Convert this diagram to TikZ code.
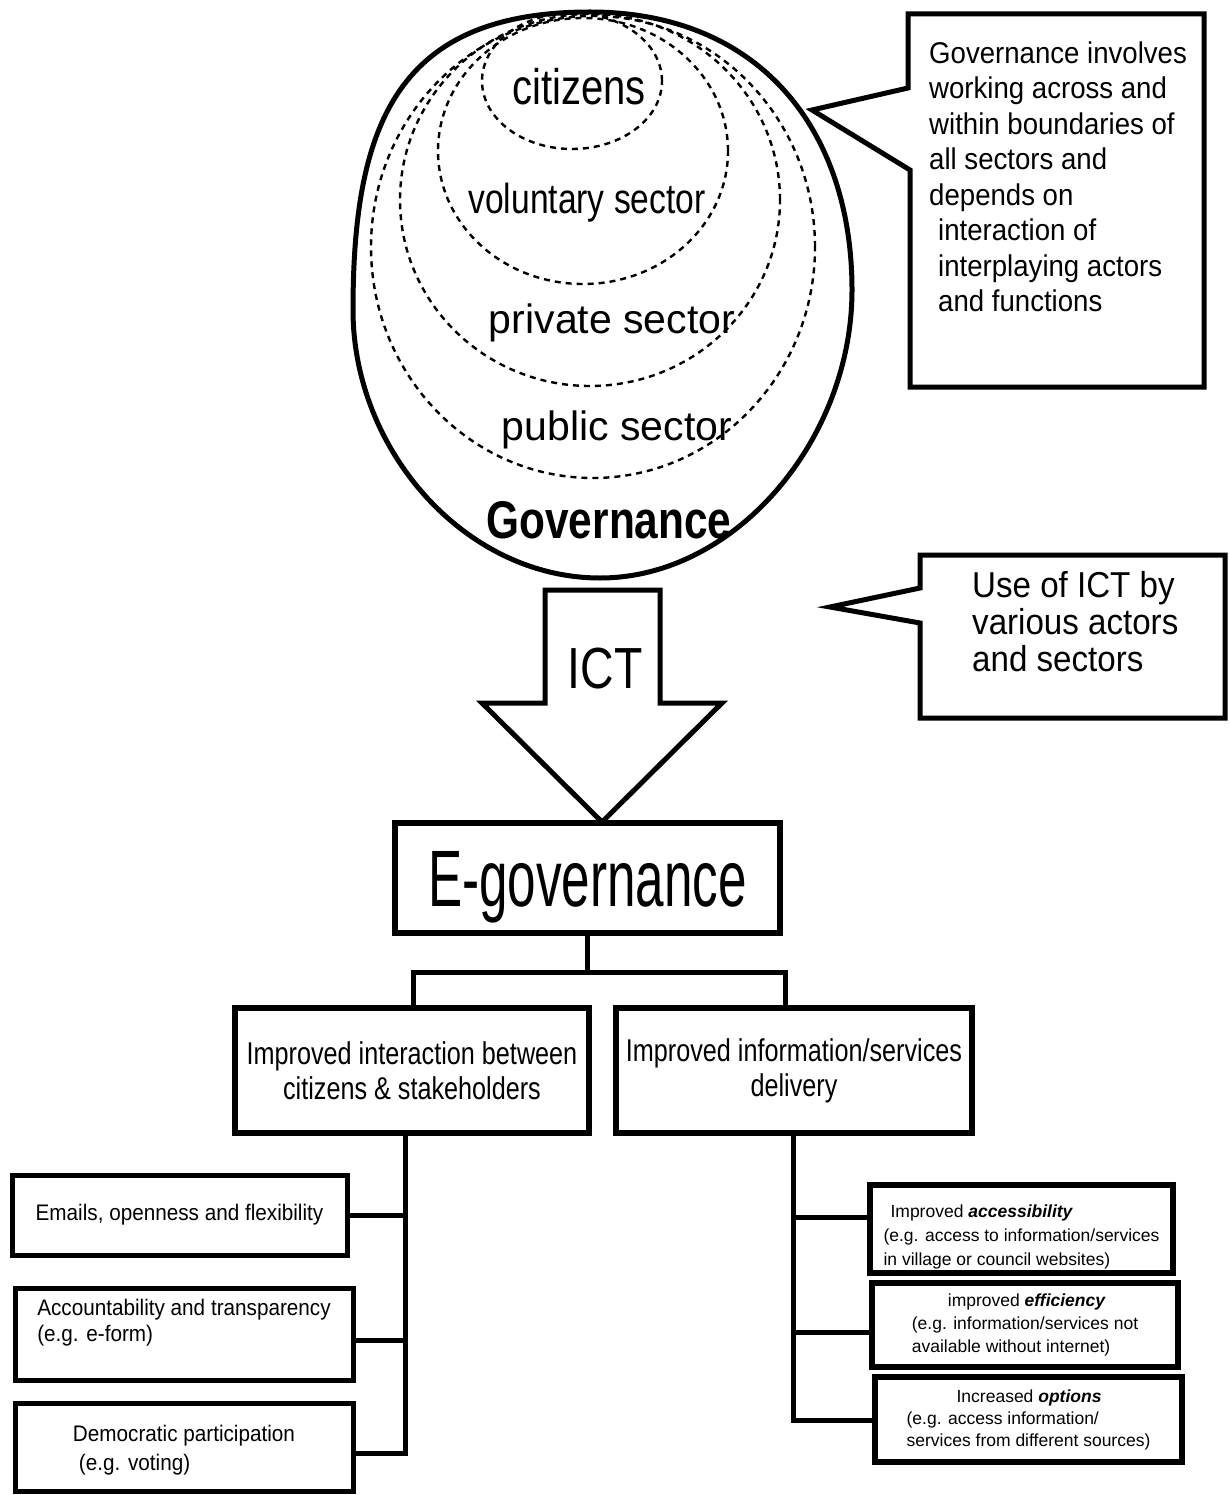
\documentclass[tikz,border=0pt]{standalone}
\usepackage{fontspec}
\setmainfont{Liberation Sans}
\newfontfamily\fnar[FakeStretch=0.8]{Liberation Sans}
\newfontfamily\fcall[FakeStretch=0.92]{Liberation Sans}
\newfontfamily\fegov[FakeStretch=0.64]{Liberation Sans}
\usetikzlibrary{shapes.geometric}
\begin{document}
\begin{tikzpicture}[x=1pt,y=-1pt,
  dashring/.style={draw, ellipse, inner sep=0pt, line width=2.4pt, dash pattern=on 6pt off 5pt},
  outline/.style={line width=5pt, line join=miter},
  boxA/.style={draw, rectangle, line width=5.5pt, inner sep=0pt},
  conn/.style={line width=5pt, line join=miter},
  label/.style={inner sep=0pt, anchor=base},
]
\path[use as bounding box, fill=white] (0,0) rectangle (1230,1495);

% Governance sphere
\draw[line width=5pt] (590,12) .. controls (760,12) and (852,130) .. (852,290)
  .. controls (852,440) and (735,578) .. (600,578)
  .. controls (465,578) and (353,450) .. (353,310)
  .. controls (353,120) and (400,12) .. (590,12) -- cycle;
\node[dashring, minimum width=444pt, minimum height=462pt] (pub) at (593,247) {};
\node[dashring, minimum width=380pt, minimum height=372pt] (pri) at (590,200) {};
\node[dashring, minimum width=290pt, minimum height=266pt] (vol) at (583,151) {};
\node[dashring, minimum width=180pt, minimum height=136pt] (cit) at (572,81) {};

\node[label, font=\fnar\fontsize{50}{52}\selectfont] (tcit) at (579,105) {citizens};
\node[label, font=\fnar\fontsize{42}{44}\selectfont] (tvol) at (587,214) {voluntary sector};
\node[label, font=\fontsize{41}{43}\selectfont] (tpri) at (612,334) {private sector};
\node[label, font=\fontsize{41}{43}\selectfont] (tpub) at (617,440) {public sector};
\node[label, font=\fnar\bfseries\fontsize{53}{55}\selectfont] (tgov) at (609,538) {Governance};

% Callout 1
\draw[outline] (908,14) -- (1204,14) -- (1204,387) -- (910,387) -- (910,170) -- (812,110) -- (908,88) -- cycle;
\node[inner sep=0pt, anchor=west, align=left, font=\fcall\fontsize{30}{35.5}\selectfont] (call1) at (929,177)
  {Governance involves\\working across and\\within boundaries of\\all sectors and\\depends on\\\hspace*{9pt}interaction of\\\hspace*{9pt}interplaying actors\\\hspace*{9pt}and functions};

% ICT arrow
\draw[outline] (545,590) -- (660,590) -- (660,703) -- (722,703) -- (602,822) -- (482,703) -- (545,703) -- cycle;
\node[label, font=\fnar\fontsize{58}{60}\selectfont] (ict) at (605,688) {ICT};

% Callout 2
\draw[outline] (920,555) -- (1225,555) -- (1225,718) -- (920,718) -- (920,623) -- (830,607) -- (920,588) -- cycle;
\node[inner sep=0pt, anchor=west, align=left, font=\fcall\fontsize{36}{37}\selectfont] (call2) at (972,622)
  {Use of ICT by\\various actors\\and sectors};

% E-governance
\node[boxA, minimum width=385pt, minimum height=110pt, font=\fegov\fontsize{80}{82}\selectfont] (egov) at (587.5,878)
  {\rule{0pt}{74pt}E-governance};

% Middle boxes
\node[boxA, minimum width=354pt, minimum height=125pt, align=center, font=\fnar\fontsize{31.5}{35}\selectfont] (mid1) at (412,1070.5)
  {Improved interaction between\\citizens \& stakeholders};
\node[boxA, minimum width=356pt, minimum height=125pt, align=center, font=\fnar\fontsize{31.5}{35}\selectfont] (mid2) at (794,1070.5)
  {Improved information/services\\delivery};

% Left detail boxes
\node[boxA, line width=5pt, minimum width=335pt, minimum height=80pt, font=\fcall\fontsize{22.5}{27}\selectfont] (b1) at (179.5,1215)
  {Emails, openness and flexibility};
\node[boxA, line width=5pt, minimum width=338pt, minimum height=92pt, align=left, font=\fcall\fontsize{22.5}{26}\selectfont] (b2) at (184,1334)
  {Accountability and transparency\\(e.g. e-form)\rule[-27pt]{0pt}{0pt}};
\node[boxA, line width=5pt, minimum width=338pt, minimum height=88pt, align=left, font=\fcall\fontsize{22.5}{29}\selectfont] (b3) at (184,1447)
  {\rule{0pt}{22pt}Democratic participation\\\hspace*{6pt}(e.g. voting)};

% Right detail boxes
\node[boxA, minimum width=303pt, minimum height=88pt, align=left, font=\fontsize{17.5}{24}\selectfont] (r1) at (1021.5,1229)
  {\hspace*{7pt}\rule{0pt}{29pt}Improved \textbf{\textit{accessibility}}\\(e.g. access to information/services\\in village or council websites)};
\node[boxA, minimum width=306pt, minimum height=84pt, align=left, font=\fontsize{17.5}{23}\selectfont] (r2) at (1025,1325)
  {\hspace*{36pt}improved \textbf{\textit{efficiency}}\\(e.g. information/services not\\available without internet)};
\node[boxA, minimum width=307pt, minimum height=85pt, align=left, font=\fontsize{17.5}{22}\selectfont] (r3) at (1028.5,1419.5)
  {\hspace*{50pt}Increased \textbf{\textit{options}}\\(e.g. access information/\\services from different sources)};

% Connectors
\coordinate (jl) at (413,972);
\coordinate (jr) at (785,972);
\draw[conn] (egov.south) -- (egov.south |- jl);
\draw[conn] (jl |- mid1.north) -- (jl) -- (jr) -- (jr |- mid2.north);

\coordinate (lv1) at (405,1215);
\coordinate (lv2) at (405,1340);
\coordinate (lv3) at (405,1453);
\draw[conn] (mid1.south -| lv3) -- (lv3) -- (lv3 -| b3.east);
\draw[conn] (lv1) -- (lv1 -| b1.east);
\draw[conn] (lv2) -- (lv2 -| b2.east);

\coordinate (rv1) at (793,1217);
\coordinate (rv2) at (793,1332);
\coordinate (rv3) at (793,1420);
\draw[conn] (mid2.south -| rv3) -- (rv3) -- (rv3 -| r3.west);
\draw[conn] (rv1) -- (rv1 -| r1.west);
\draw[conn] (rv2) -- (rv2 -| r2.west);
\end{tikzpicture}
\end{document}
